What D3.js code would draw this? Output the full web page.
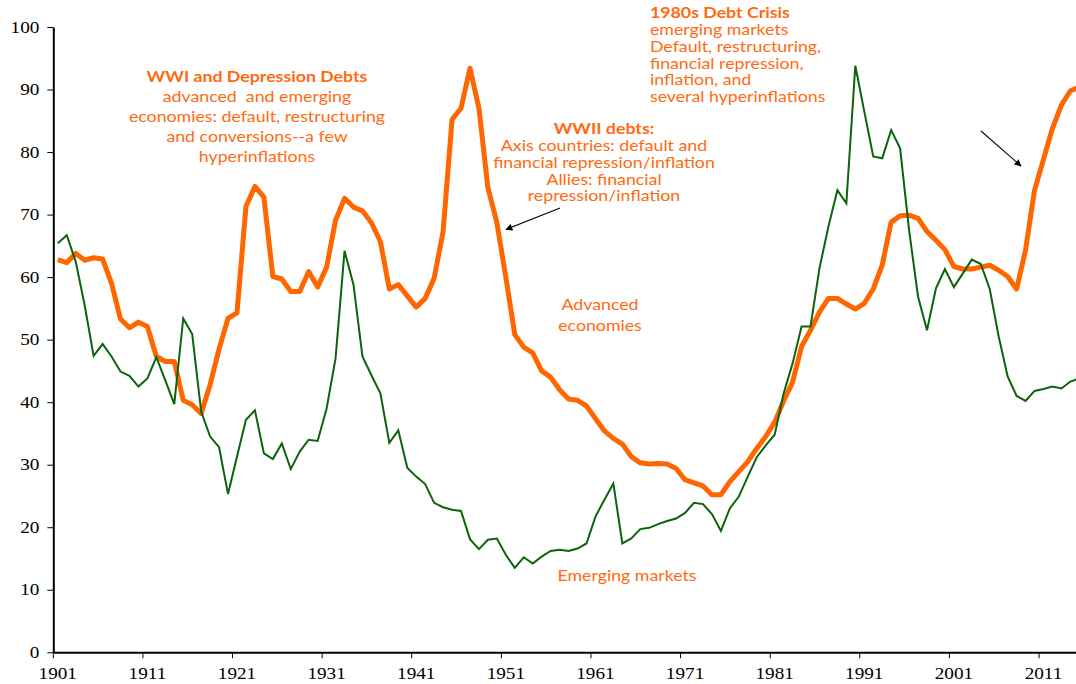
<!DOCTYPE html>
<html>
<head>
<meta charset="utf-8">
<script src="https://cdn.jsdelivr.net/npm/d3@7"></script>
<style>
  html, body { margin: 0; padding: 0; background: #fff; }
  svg { display: block; }
  .note { font-family: Lato, "Open Sans", sans-serif; fill: #ff6a10; font-size: 14.8px; white-space: pre; }
</style>
</head>
<body>
<script>
// public debt / GDP, advanced vs emerging economies, 1901-2015

// categories
const years = d3.range(1901, 2016)

// advanced economies, % of GDP
const advanced = [
  62.8, 62.3, 63.8, 62.7, 63.1, 62.9, 59.0, 53.3, 51.9, 52.8,
  52.1, 47.3, 46.5, 46.5, 40.3, 39.6, 38.2, 42.8, 48.5, 53.4,
  54.3, 71.3, 74.5, 72.8, 60.1, 59.7, 57.7, 57.7, 60.9, 58.4,
  61.6, 69.1, 72.6, 71.2, 70.6, 68.7, 65.7, 58.1, 58.8, 57.0,
  55.2, 56.6, 59.8, 67.3, 85.2, 87.0, 93.4, 87.0, 74.3, 68.7,
  60.0, 50.8, 48.8, 47.9, 45.0, 44.0, 42.0, 40.5, 40.3, 39.4,
  37.4, 35.4, 34.2, 33.3, 31.3, 30.3, 30.1, 30.2, 30.1, 29.4,
  27.6, 27.1, 26.6, 25.2, 25.2, 27.3, 28.9, 30.5, 32.6, 34.5,
  36.8, 40.2, 43.2, 48.9, 51.5, 54.4, 56.6, 56.6, 55.7, 54.9,
  55.8, 58.1, 61.9, 68.8, 69.8, 69.9, 69.4, 67.3, 65.9, 64.4,
  61.7, 61.3, 61.3, 61.6, 61.9, 61.1, 60.1, 58.1, 64.3, 73.9,
  78.8, 83.8, 87.5, 89.8, 90.4
]

// emerging markets, % of GDP
const emerging = [
  65.4, 66.7, 62.5, 55.5, 47.4, 49.3, 47.3, 44.9, 44.2, 42.5,
  43.8, 47.2, 43.5, 39.7, 53.4, 50.9, 38.5, 34.5, 32.8, 25.3,
  31.3, 37.2, 38.7, 31.8, 30.9, 33.4, 29.3, 32.1, 34.0, 33.8,
  39.0, 47.0, 64.2, 58.8, 47.3, 44.3, 41.4, 33.5, 35.5, 29.5,
  28.1, 26.9, 23.9, 23.2, 22.8, 22.6, 18.1, 16.5, 18.0, 18.2,
  15.6, 13.5, 15.2, 14.2, 15.3, 16.2, 16.4, 16.2, 16.6, 17.4,
  21.7, 24.4, 27.0, 17.4, 18.2, 19.7, 19.9, 20.5, 21.0, 21.4,
  22.3, 23.9, 23.7, 22.1, 19.4, 23.0, 24.9, 28.1, 31.2, 33.1,
  34.8, 41.4, 46.2, 52.1, 52.1, 61.4, 68.1, 73.9, 71.8, 93.8,
  86.5, 79.3, 79.0, 83.5, 80.6, 67.5, 56.9, 51.5, 58.2, 61.3,
  58.4, 60.6, 62.8, 62.1, 58.1, 50.5, 44.1, 41.0, 40.2, 41.8,
  42.1, 42.5, 42.2, 43.3, 43.8
]

const yTicks = d3.range(0, 101, 10)
const xTickYears = years.filter(d => (d - 1901) % 10 === 0)

const width = 1076, height = 684
const plotLeft = 53.3, plotTop = 27, plotBottom = 652.3
const step = 8.961
const stretch = 1.2 // the original picture is a bit wide, text included

const svg = d3.select('body').append('svg')
  .attr('width', width)
  .attr('height', height)

const x = d3.scaleBand()
  .domain(years)
  .range([plotLeft, plotLeft + years.length * step])
  .paddingInner(0).paddingOuter(0)

const y = d3.scaleLinear()
  .domain([0, 100])
  .range([plotBottom, plotTop])

const cx = d => x(d) + x.bandwidth() / 2

// arrow head
svg.append('defs').append('marker')
  .attr('id', 'arrow')
  .attr('viewBox', '0 0 10 10')
  .attr('refX', 9).attr('refY', 5)
  .attr('markerWidth', 9).attr('markerHeight', 7)
  .attr('markerUnits', 'userSpaceOnUse')
  .attr('orient', 'auto')
  .append('path')
  .attr('d', 'M0,0 L10,5 L0,10 Z')
  .attr('fill', '#000')

// lines
const lineOf = vals => d3.line()
  .x((d, i) => cx(years[i]))
  .y(d => y(d))(vals)

svg.append('path')
  .attr('d', lineOf(advanced))
  .attr('fill', 'none')
  .attr('stroke', '#ff6600')
  .attr('stroke-width', 5)
  .attr('stroke-linejoin', 'round')

svg.append('path')
  .attr('d', lineOf(emerging))
  .attr('fill', 'none')
  .attr('stroke', '#0b640b')
  .attr('stroke-width', 2)
  .attr('stroke-linejoin', 'miter')

// axes
const yAxis = svg.append('g')
  .attr('transform', 'translate(' + plotLeft + ',0)')
  .call(d3.axisLeft(y).tickValues(yTicks).tickSize(6).tickSizeOuter(0).tickPadding(8))
yAxis.select('.domain').attr('stroke', '#000').attr('stroke-width', 2)
yAxis.selectAll('.tick line').attr('stroke', '#000')
yAxis.selectAll('.tick text')
  .style('font-family', '"Liberation Serif", "Times New Roman", serif')
  .style('font-size', '16px')
  .attr('fill', '#000')
  .attr('x', -14 / stretch)
  .attr('transform', 'scale(' + stretch + ',1)')

const xAxis = svg.append('g')
  .attr('transform', 'translate(0,' + plotBottom + ')')
  .call(d3.axisBottom(x).tickValues(xTickYears).tickSize(6).tickSizeOuter(0).tickPadding(9.3))
xAxis.select('.domain').attr('stroke', '#000').attr('stroke-width', 2)
// tick marks sit between categories
xAxis.selectAll('.tick line')
  .attr('stroke', '#000')
  .attr('x1', -x.bandwidth() / 2)
  .attr('x2', -x.bandwidth() / 2)
xAxis.selectAll('.tick text')
  .style('font-family', '"Liberation Serif", "Times New Roman", serif')
  .style('font-size', '16px')
  .attr('fill', '#000')
  .attr('transform', 'scale(' + stretch + ',1)')

// annotations
function note (lines, xPos, yPos, lh, anchor) {
  const t = svg.append('g')
    .attr('transform', 'translate(' + xPos + ',0) scale(' + stretch + ',1)')
    .append('text')
    .attr('class', 'note')
    .attr('text-anchor', anchor)
  lines.forEach((l, i) => {
    t.append('tspan')
      .attr('x', 0)
      .attr('y', yPos + i * lh)
      .attr('font-weight', l.bold ? 'bold' : 'normal')
      .text(l.t)
  })
}

note([
  { t: 'WWI and Depression Debts', bold: true },
  { t: 'advanced  and emerging' },
  { t: 'economies: default, restructuring' },
  { t: 'and conversions--a few' },
  { t: 'hyperinflations' }
], 257, 82, 20, 'middle')

note([
  { t: 'WWII debts:', bold: true },
  { t: 'Axis countries: default and' },
  { t: 'financial repression/inflation' },
  { t: 'Allies: financial' },
  { t: 'repression/inflation' }
], 604, 134.5, 16.7, 'middle')

note([
  { t: '1980s Debt Crisis', bold: true },
  { t: 'emerging markets' },
  { t: 'Default, restructuring,' },
  { t: 'financial repression,' },
  { t: 'inflation, and' },
  { t: 'several hyperinflations' }
], 650, 18.5, 16.7, 'start')

note([
  { t: 'Advanced' },
  { t: 'economies' }
], 600, 310.5, 21, 'middle')

note([
  { t: 'Emerging markets' }
], 627, 581.5, 20, 'middle')

svg.append('line')
  .attr('x1', 560).attr('y1', 208)
  .attr('x2', 506).attr('y2', 229.5)
  .attr('stroke', '#000').attr('stroke-width', 1.1)
  .attr('marker-end', 'url(#arrow)')

svg.append('line')
  .attr('x1', 981).attr('y1', 131)
  .attr('x2', 1021).attr('y2', 166)
  .attr('stroke', '#000').attr('stroke-width', 1.1)
  .attr('marker-end', 'url(#arrow)')
</script>
</body>
</html>
